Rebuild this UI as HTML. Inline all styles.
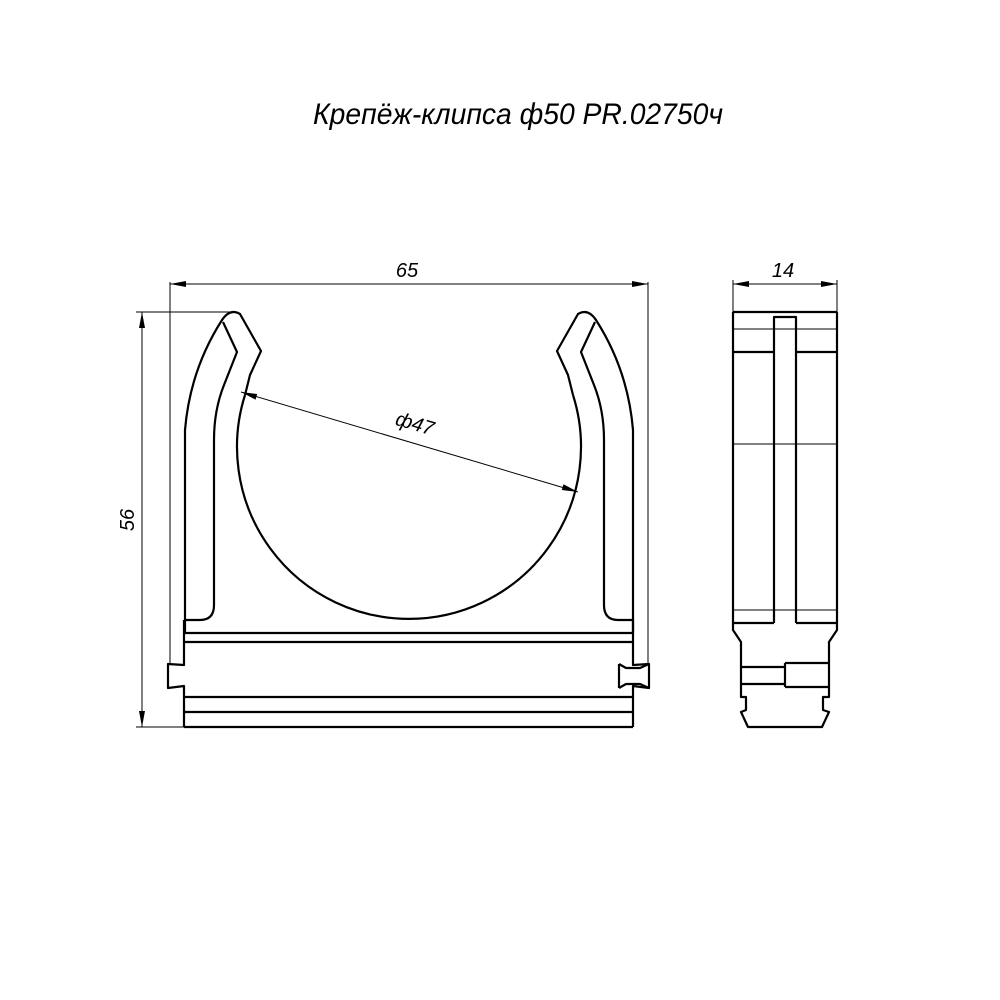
<!DOCTYPE html>
<html><head><meta charset="utf-8"><style>html,body{margin:0;padding:0;background:#fff}svg{display:block}</style></head>
<body>
<svg width="1000" height="1000" viewBox="0 0 1000 1000" xmlns="http://www.w3.org/2000/svg">
<text x="518" y="124" text-anchor="middle" font-family="Liberation Sans, sans-serif" font-style="italic" font-size="30" fill="#000" textLength="410" lengthAdjust="spacingAndGlyphs">Крепёж-клипса ф50 PR.02750ч</text>
<g fill="none" stroke="#000" stroke-width="2.2" stroke-linejoin="round">
<g id="arm">
<path d="M185,633 L185,430 Q190,370 222,320 Q230,308 240,314 L261,351 L250,375 L245,395"/>
<path d="M223,322 L237,352 L224,385 Q214,410 214,440 L214,605 Q214,620 200,620 L184,620"/>
</g>
<use href="#arm" transform="matrix(-1 0 0 1 818 0)"/>
<path d="M245,395 A172,172 0 1 0 573,395"/>
<path d="M184,633 H633 M184,642 H633 M184,697 H633 M184,712 H633 M184,727 H633"/>
<path d="M184,620 V665 L168,664 V688 L184,686 V727"/>
<path d="M633,620 V665 L649,664 V688 L633,686 V727"/>
<path d="M619,664 L626,668 L640,668 L649,664 M619,688 L626,684 L640,684 L649,688 M619,664 V688"/>
<!-- side view -->
<path d="M733,312 H837 M733,352 H774 M796,352 H837 M733,623 H774 M796,623 H837"/>
<path d="M733,312 V630 L741,642 V697 H746 V710 L741,712 L748,727 H822 L829,712 L823,710 V697 H829 V642 L837,630 V312"/>
<path d="M774,623 V317 H796 V623"/>
<path d="M741,667 H785 M741,684 H785 M785,663 H829 M785,687 H829 M785,663 V687"/>
</g>
<g fill="none" stroke="#000" stroke-width="1">
<path d="M733,329 H837 M733,444 H837 M733,610 H837"/>
<path d="M170,282 V665 M648,282 V665 M170,284 H648"/>
<path d="M733,280 V312 M837,280 V312 M733,284 H837"/>
<path d="M136,312 H233 M136,727 H184 M142,312 V727"/>
<path d="M241,392 L578,492"/>
</g>
<g fill="#000">
<path d="M170,284 l16,-3 v6z M648,284 l-16,-3 v6z"/>
<path d="M733,284 l16,-3 v6z M837,284 l-16,-3 v6z"/>
<path d="M142,312 l-3,16 h6z M142,727 l-3,-16 h6z"/>
<path d="M241,392 l16.2,2 l-1.7,5.7z M578,492 l-16.2,-2 l1.7,-5.7z"/>
</g>
<g font-family="Liberation Sans, sans-serif" font-style="italic" font-size="20" fill="#000">
<text x="407" y="277" text-anchor="middle">65</text>
<text x="783" y="277" text-anchor="middle">14</text>
<text transform="translate(134,520) rotate(-90)" text-anchor="middle">56</text>
<text transform="translate(413,430) rotate(16.5)" text-anchor="middle">ф47</text>
</g>
</svg>
</body></html>
